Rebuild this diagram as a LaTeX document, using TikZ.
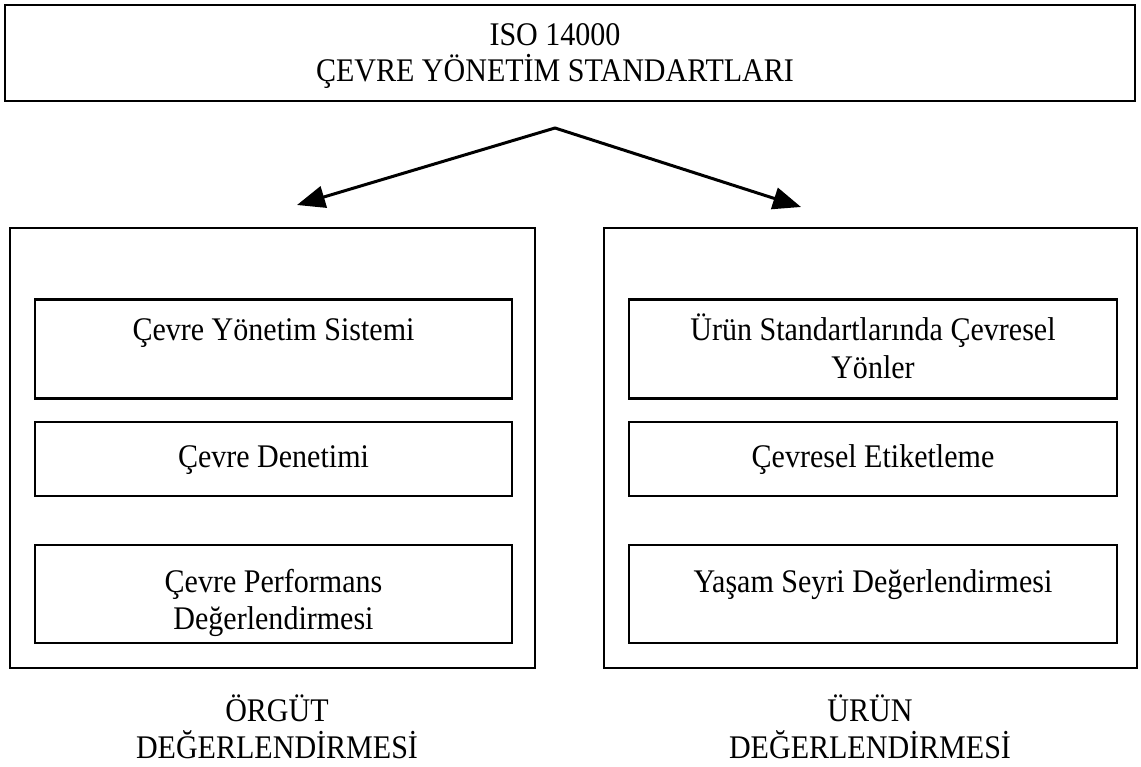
\documentclass[tikz,border=0pt]{standalone}
\usepackage{fontspec}
\setmainfont{Liberation Serif}[FakeStretch=0.91]
\usetikzlibrary{arrows.meta}

\tikzset{
  frame/.style={draw=black, line width=2.3pt, fill=none, inner sep=0pt},
  itembox/.style={draw=black, line width=2.3pt, inner sep=0pt},
  txt/.style={anchor=base, inner sep=0pt, font=\fontsize{33}{36}\selectfont},
  itemtxt/.style={anchor=base, inner sep=0pt, font=\fontsize{33}{36}\selectfont},
  branch/.style={draw=black, line width=3pt, line cap=round,
                 -{Triangle[length=28pt,width=22pt]}}
}

\begin{document}
\begin{tikzpicture}[x=1pt,y=-1pt]
  \useasboundingbox[fill=white] (0,0) rectangle (1141,767);

  % header box
  \node[frame, minimum width=1130, minimum height=96] (head) at (570,53) {};
  \node[txt] (h1) at (555,46) {ISO 14000};
  \node[txt] (h2) at (555,82) {ÇEVRE YÖNETİM STANDARTLARI};

  % two group frames
  \node[frame, minimum width=525, minimum height=440] (left) at (272.5,448) {};
  \node[frame, minimum width=533, minimum height=440] (right) at (870.5,448) {};

  % branching arrows
  \coordinate (apex) at (555,128);
  \coordinate (ltip) at (297,205);
  \coordinate (rtip) at (801,207);
  \draw[branch] (apex) -- (ltip);
  \draw[branch] (apex) -- (rtip);

  % left column items
  \node[itembox, minimum width=477, minimum height=99] (l1) at (273.5,349) {};
  \node[itembox, minimum width=477, minimum height=74] (l2) at (273.5,459) {};
  \node[itembox, minimum width=477, minimum height=98] (l3) at (273.5,594) {};
  \node[itemtxt] (l1t) at (273.5,341) {Çevre Yönetim Sistemi};
  \node[itemtxt] (l2t) at (273.5,467) {Çevre Denetimi};
  \node[itemtxt] (l3t) at (273.5,592) {Çevre Performans};
  \node[itemtxt] (l3u) at (273.5,629) {Değerlendirmesi};

  % right column items
  \node[itembox, minimum width=488, minimum height=99] (r1) at (873,349) {};
  \node[itembox, minimum width=488, minimum height=74] (r2) at (873,459) {};
  \node[itembox, minimum width=488, minimum height=98] (r3) at (873,594) {};
  \node[itemtxt] (r1t) at (873,341) {Ürün Standartlarında Çevresel};
  \node[itemtxt] (r1u) at (873,378) {Yönler};
  \node[itemtxt] (r2t) at (873,467) {Çevresel Etiketleme};
  \node[itemtxt] (r3t) at (873,592) {Yaşam Seyri Değerlendirmesi};

  % group captions
  \node[txt] (lc1) at (277,721) {ÖRGÜT};
  \node[txt] (lc2) at (277,758) {DEĞERLENDİRMESİ};
  \node[txt] (rc1) at (870,721) {ÜRÜN};
  \node[txt] (rc2) at (870,758) {DEĞERLENDİRMESİ};
\end{tikzpicture}
\end{document}
